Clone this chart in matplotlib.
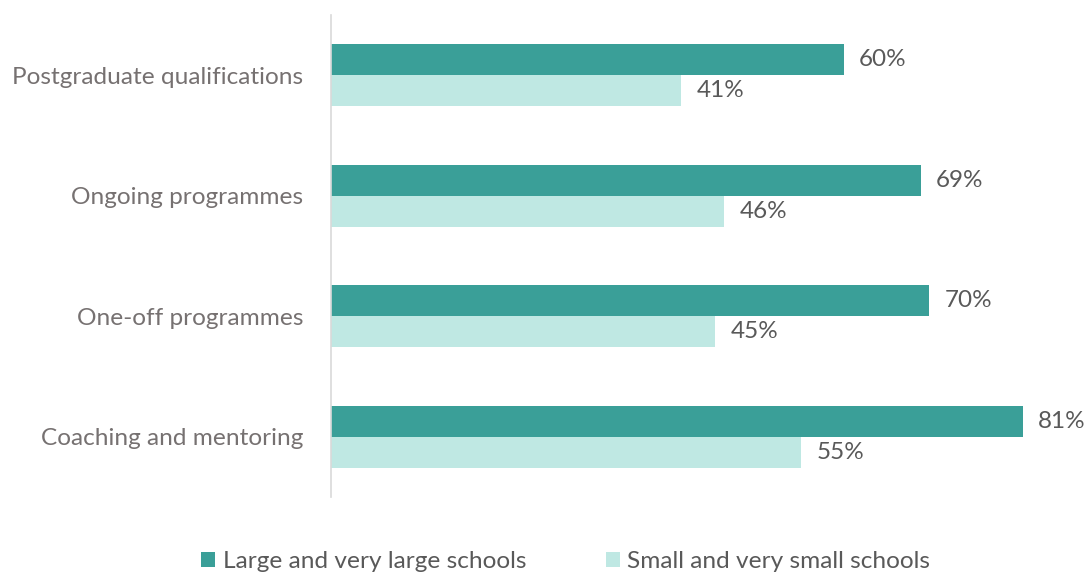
import matplotlib.pyplot as plt
import numpy as np

plt.rcParams['font.family'] = ['Lato', 'DejaVu Sans']

categories = ['Postgraduate qualifications', 'Ongoing programmes',
              'One-off programmes', 'Coaching and mentoring']
large_schools = [60, 69, 70, 81]
small_schools = [41, 46, 45, 55]
series_names = ['Large and very large schools', 'Small and very small schools']

dark = '#3A9F98'
light = '#BFE8E3'

fig = plt.figure(figsize=(10.88, 5.74), dpi=100)
ax = fig.add_axes([331 / 1088, 77 / 574, 1 - 331 / 1088, 482 / 574])

y = np.arange(len(categories))
h = 0.258
b1 = ax.barh(y - h / 2, large_schools, h, color=dark, label=series_names[0])
b2 = ax.barh(y + h / 2, small_schools, h, color=light, label=series_names[1])

# value labels just past the end of each bar
ax.bar_label(b1, labels=[f'{v}%' for v in large_schools], padding=11,
             fontsize=17.5, color='#595959')
ax.bar_label(b2, labels=[f'{v}%' for v in small_schools], padding=11,
             fontsize=17.5, color='#595959')

ax.set_ylim(3.5, -0.5)
ax.set_xlim(0, 88.6)
ax.set_yticks(y)
ax.set_yticklabels(categories, fontsize=17.6, color='#767171')
ax.tick_params(axis='y', length=0, pad=20)
ax.set_xticks([])

for side in ['top', 'right', 'bottom']:
    ax.spines[side].set_visible(False)
ax.spines['left'].set_color('#D9D9D9')
ax.spines['left'].set_linewidth(1.2)

fig.legend(handles=[b1, b2], loc='center', bbox_to_anchor=(0.52, 12 / 574),
           ncol=2, frameon=False, fontsize=17.6, labelcolor='#595959',
           handlelength=0.58, handleheight=0.58, handletextpad=0.3, columnspacing=3.25)

fig.savefig('out.png', dpi=100)
